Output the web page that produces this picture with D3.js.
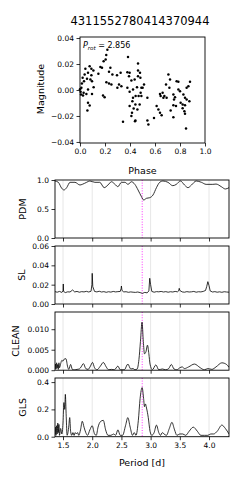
<!DOCTYPE html>
<html><head><meta charset="utf-8">
<script src="https://cdn.jsdelivr.net/npm/d3@7"></script>
<style>body{margin:0;background:#fff}svg{display:block}text{font-family:"DejaVu Sans",sans-serif;fill:#000}</style>
</head><body><svg id="c" width="249" height="480"></svg>
<script>
const title = "4311552780414370944";
const pRot = 2.856;

const phase = [0.219,0.210,0.384,0.205,0.189,0.464,0.077,0.163,0.176,0.091,0.243,0.043,0.107,0.464,0.232,0.064,0.147,0.325,0.379,0.397,
0.037,0.091,0.259,0.296,0.392,0.464,0.021,0.056,0.083,0.032,0.096,0.211,0.232,0.251,0.312,0.331,0.437,0.483,0.411,0.011,
0.109,0.299,0.064,0.379,0.456,0.491,0.424,0.005,0.029,0.051,0.096,0.024,0.184,0.197,0.397,0.445,0.469,0.491,0.424,0.485,
0.064,0.077,0.419,0.443,0.477,0.397,0.059,0.429,0.459,0.416,0.411,0.443,0.344,0.512,0.501,0.539,0.539,0.547,0.707,0.720,
0.773,0.787,0.880,0.688,0.715,0.640,0.661,0.675,0.693,0.667,0.645,0.747,0.760,0.787,0.800,0.853,0.867,0.827,0.840,0.875,
0.853,0.805,0.821,0.840,0.752,0.747,0.768,0.725,0.821,0.835,0.840,0.613,0.627,0.640,0.653,0.592,0.747,0.848,0.440,0.000,
0.008,0.015,0.480];
const mag = [0.0310,0.0270,0.0255,0.0235,0.0222,0.0204,0.0183,0.0178,0.0171,0.0163,0.0171,0.0163,0.0150,0.0150,0.0140,0.0132,0.0125,0.0132,0.0137,0.0132,
0.0119,0.0114,0.0119,0.0114,0.0106,0.0106,0.0094,0.0086,0.0081,0.0068,0.0068,0.0060,0.0050,0.0042,0.0042,0.0029,0.0081,0.0094,0.0073,0.0017,
0.0022,0.0017,0.0004,0.0017,0.0022,0.0017,0.0004,-0.0014,-0.0022,-0.0030,-0.0030,-0.0042,-0.0042,-0.0055,-0.0014,-0.0047,-0.0047,-0.0047,-0.0060,-0.0022,
-0.0099,-0.0119,-0.0086,-0.0112,-0.0112,-0.0124,-0.0158,-0.0142,-0.0150,-0.0176,-0.0201,-0.0235,-0.0245,0.0042,0.0017,-0.0060,-0.0235,-0.0265,0.0119,0.0081,
0.0068,0.0063,0.0063,0.0042,0.0017,-0.0030,-0.0022,-0.0047,-0.0060,-0.0060,-0.0047,-0.0034,-0.0055,0.0004,-0.0009,0.0017,0.0029,-0.0034,-0.0060,-0.0086,
-0.0073,-0.0099,-0.0112,-0.0117,-0.0073,-0.0117,-0.0124,-0.0158,-0.0140,-0.0163,-0.0183,-0.0124,-0.0150,-0.0176,-0.0194,-0.0215,-0.0209,-0.0296,-0.0240,0.0005,
-0.0035,0.0050,0.0132];

const phaseTicks = [0,0.2,0.4,0.6,0.8,1.0];
const magTicks = [-0.04,-0.02,0,0.02,0.04];
const periodTicks = [1.5,2.0,2.5,3.0,3.5,4.0];

const pdmPeriod = [1.363,1.42,1.478,1.517,1.563,1.62,1.705,1.79,1.83,1.904,1.96,2.046,2.13,2.205,2.27,2.33,2.39,2.44,2.50,2.56,2.614,2.67,2.73,2.785,2.843,2.882,2.928,2.985,3.04,3.10,3.155,3.21,3.297,3.38,3.44,3.51,3.58,3.64,3.70,3.78,3.87,3.95,4.065,4.12,4.21,4.28,4.342];
const pdmPower = [0.983,0.96,0.857,0.828,0.868,0.96,0.96,0.914,0.925,0.96,0.983,0.96,0.96,0.868,0.914,0.97,0.925,0.885,0.96,0.96,0.925,0.97,0.925,0.828,0.713,0.655,0.684,0.695,0.74,0.868,0.96,0.983,0.96,0.902,0.925,0.983,0.914,0.868,0.914,0.983,0.96,0.925,0.925,0.93,0.885,0.845,0.868];

const slPeriod = [1.363,1.40,1.44,1.48,1.50,1.505,1.51,1.54,1.58,1.62,1.665,1.70,1.74,1.78,1.82,1.86,1.90,1.94,1.98,1.995,2.00,2.01,2.04,2.08,2.12,2.16,2.20,2.24,2.28,2.32,2.36,2.40,2.44,2.48,2.495,2.50,2.51,2.54,2.58,2.62,2.66,2.70,2.74,2.78,2.82,2.86,2.90,2.94,2.97,2.985,3.00,3.02,3.06,3.10,3.14,3.18,3.22,3.26,3.30,3.34,3.38,3.42,3.46,3.48,3.49,3.50,3.54,3.58,3.62,3.66,3.70,3.74,3.78,3.82,3.86,3.90,3.94,3.96,3.98,4.00,4.02,4.06,4.10,4.14,4.18,4.22,4.26,4.30,4.342];
const slPower = [0.0128,0.0122,0.0130,0.0120,0.0135,0.0207,0.0130,0.0118,0.0126,0.0124,0.0145,0.0125,0.0130,0.0122,0.0128,0.0125,0.0131,0.0124,0.0132,0.0200,0.0317,0.0180,0.0130,0.0125,0.0132,0.0124,0.0128,0.0121,0.0127,0.0123,0.0130,0.0125,0.0128,0.0130,0.0160,0.0186,0.0140,0.0125,0.0127,0.0121,0.0125,0.0122,0.0120,0.0124,0.0118,0.0110,0.0120,0.0115,0.0135,0.0266,0.0200,0.0130,0.0122,0.0128,0.0126,0.0130,0.0124,0.0128,0.0122,0.0127,0.0124,0.0130,0.0126,0.0135,0.0162,0.0140,0.0125,0.0122,0.0128,0.0124,0.0126,0.0130,0.0122,0.0127,0.0125,0.0130,0.0140,0.0180,0.0231,0.0190,0.0135,0.0124,0.0128,0.0122,0.0126,0.0121,0.0127,0.0124,0.0122];

const cleanPeriod = [1.363,1.37,1.38,1.39,1.40,1.41,1.42,1.43,1.44,1.46,1.48,1.50,1.52,1.55,1.58,1.60,1.63,1.66,1.70,1.74,1.78,1.81,1.85,1.89,1.93,1.97,2.005,2.04,2.08,2.14,2.19,2.24,2.28,2.33,2.38,2.44,2.48,2.55,2.61,2.66,2.70,2.73,2.77,2.80,2.826,2.853,2.875,2.895,2.92,2.946,2.97,2.99,3.03,3.09,3.14,3.20,3.26,3.31,3.355,3.40,3.45,3.50,3.54,3.58,3.65,3.75,3.85,3.92,3.98,4.05,4.12,4.22,4.30,4.342];
const cleanPower = [0.0002,0.0015,0.0003,0.0018,0.0005,0.0014,0.0002,0.0018,0.0006,0.0016,0.0024,0.0022,0.0027,0.0028,0.0008,0.0002,0.0014,0.0002,0.0001,0.0002,0.0003,0.0008,0.0016,0.0004,0.0002,0.0010,0.0019,0.0006,0.0001,0.0010,0.0019,0.0008,0.0001,0.0002,0.0001,0.0010,0.0001,0.0001,0.0015,0.0003,0.0004,0.0001,0.0003,0.0026,0.0070,0.0117,0.0070,0.0040,0.0045,0.0061,0.0040,0.0015,0.0001,0.0013,0.0001,0.0003,0.0001,0.0004,0.0014,0.0003,0.0001,0.0006,0.0008,0.0004,0.0008,0.0015,0.0006,0.0001,0.0004,0.0002,0.0008,0.0018,0.0014,0.0007];

const glsPeriod = [1.363,1.37,1.38,1.39,1.40,1.41,1.42,1.43,1.44,1.46,1.48,1.50,1.515,1.53,1.54,1.555,1.57,1.585,1.60,1.615,1.63,1.65,1.67,1.69,1.71,1.73,1.75,1.77,1.80,1.83,1.86,1.89,1.92,1.96,2.00,2.04,2.07,2.10,2.14,2.19,2.23,2.27,2.32,2.37,2.40,2.44,2.48,2.52,2.57,2.61,2.65,2.69,2.72,2.75,2.79,2.82,2.855,2.88,2.895,2.91,2.93,2.96,2.99,3.02,3.06,3.10,3.14,3.17,3.20,3.23,3.27,3.32,3.365,3.41,3.45,3.50,3.55,3.60,3.66,3.73,3.80,3.86,3.92,3.98,4.03,4.08,4.14,4.22,4.28,4.342];
const glsPower = [0.02,0.07,0.01,0.08,0.02,0.10,0.03,0.09,0.01,0.06,0.02,0.10,0.25,0.20,0.31,0.15,0.01,0.03,0.08,0.14,0.04,0.01,0.03,0.01,0.03,0.02,0.03,0.01,0.05,0.113,0.07,0.03,0.01,0.05,0.08,0.02,0.01,0.07,0.11,0.12,0.05,0.01,0.01,0.02,0.01,0.05,0.01,0.01,0.08,0.14,0.07,0.01,0.03,0.01,0.12,0.28,0.36,0.28,0.22,0.24,0.21,0.14,0.04,0.01,0.03,0.085,0.03,0.01,0.03,0.02,0.01,0.06,0.105,0.05,0.01,0.02,0.02,0.01,0.04,0.07,0.04,0.01,0.01,0.01,0.02,0.02,0.04,0.085,0.06,0.02];

const svg = d3.select("#c");
const FS = 7.5;

svg.append("text").attr("x",140).attr("y",25).attr("text-anchor","middle").attr("font-size",11.5).text(title);

// ---------- phase-folded scatter ----------
const sx = d3.scaleLinear().domain([0,1]).range([80,205]);
const sy = d3.scaleLinear().domain([-0.0408,0.0408]).range([143,37]);
const gS = svg.append("g");
gS.append("g").attr("transform","translate(0,143)")
  .call(d3.axisBottom(sx).tickValues(phaseTicks).tickFormat(d3.format(".1f")).tickSize(3.5).tickPadding(2.5).tickSizeOuter(0));
gS.append("g").attr("transform","translate(80,0)")
  .call(d3.axisLeft(sy).tickValues(magTicks).tickFormat(d3.format(".2f")).tickSize(3.5).tickPadding(2.5).tickSizeOuter(0));
gS.selectAll(".domain").remove();
gS.selectAll(".tick text").attr("font-size",FS).attr("font-family","DejaVu Sans");
gS.selectAll(".tick line").attr("stroke","#000").attr("stroke-width",0.8);
gS.append("g").selectAll("circle").data(phase.map((p,i)=>[p,mag[i]])).join("circle")
  .attr("cx",d=>sx(d[0])).attr("cy",d=>sy(d[1])).attr("r",1.25).attr("fill","#000");
gS.append("rect").attr("x",80).attr("y",37).attr("width",125).attr("height",106)
  .attr("fill","none").attr("stroke","#000").attr("stroke-width",0.9);
const pt = gS.append("text").attr("x",83).attr("y",48).attr("font-size",8);
pt.append("tspan").attr("font-style","italic").text("P");
pt.append("tspan").attr("font-style","italic").attr("font-size",5.5).attr("dy",1.8).text("rot");
pt.append("tspan").attr("dy",-1.8).text(" = " + pRot.toFixed(3));
svg.append("text").attr("transform","translate(43.5,89) rotate(-90)").attr("text-anchor","middle").attr("font-size",9.5).text("Magnitude");
svg.append("text").attr("x",142.5).attr("y",174).attr("text-anchor","middle").attr("font-size",9.5).text("Phase");

// ---------- periodogram panels ----------
const px = d3.scaleLinear().domain([1.363,4.342]).range([55,229]);
const panels = [
  {name:"PDM", per:pdmPeriod, pow:pdmPower, top:180, bot:238, dom:[0,1], ticks:[0,0.5,1], fmt:".1f", lx:25.5, curve:d3.curveMonotoneX},
  {name:"SL", per:slPeriod, pow:slPower, top:246, bot:304, dom:[0,0.06], ticks:[0,0.02,0.04,0.06], fmt:".2f", lx:24.5, curve:d3.curveLinear},
  {name:"CLEAN", per:cleanPeriod, pow:cleanPower, top:312, bot:370.2, dom:[0,0.0142], ticks:[0,0.005,0.01], fmt:".3f", lx:18.5, curve:d3.curveMonotoneX},
  {name:"GLS", per:glsPeriod, pow:glsPower, top:378, bot:436.7, dom:[0,0.43], ticks:[0,0.2,0.4], fmt:".1f", lx:25.5, curve:d3.curveMonotoneX}
];
panels.forEach((P,k)=>{
  const y = d3.scaleLinear().domain(P.dom).range([P.bot,P.top]);
  const g = svg.append("g");
  g.append("defs").append("clipPath").attr("id","cp"+k).append("rect")
    .attr("x",55).attr("y",P.top).attr("width",174).attr("height",P.bot-P.top);
  g.selectAll("line.grid").data(periodTicks).join("line").attr("class","grid")
    .attr("x1",d=>px(d)).attr("x2",d=>px(d)).attr("y1",P.top).attr("y2",P.bot)
    .attr("stroke","#e3e3e3").attr("stroke-width",0.9);
  g.append("line").attr("x1",px(pRot)).attr("x2",px(pRot)).attr("y1",P.top).attr("y2",P.bot)
    .attr("stroke","#ff33ff").attr("stroke-width",1).attr("stroke-dasharray","1,1.6");
  const line = d3.line().x((d,i)=>px(P.per[i])).y((d,i)=>y(P.pow[i])).curve(P.curve);
  g.append("path").attr("d",line(P.pow)).attr("fill","none").attr("stroke","#000")
    .attr("stroke-width",0.8).attr("clip-path","url(#cp"+k+")");
  const ax = g.append("g").attr("transform","translate(0,"+P.bot+")")
    .call(d3.axisBottom(px).tickValues(periodTicks).tickFormat(k===3?d3.format(".1f"):()=>"").tickSize(3.5).tickPadding(2.5).tickSizeOuter(0));
  const ay = g.append("g").attr("transform","translate(55,0)")
    .call(d3.axisLeft(y).tickValues(P.ticks).tickFormat(d3.format(P.fmt)).tickSize(3.5).tickPadding(2.5).tickSizeOuter(0));
  g.selectAll(".domain").remove();
  g.selectAll(".tick text").attr("font-size",FS).attr("font-family","DejaVu Sans");
  g.selectAll(".tick line").attr("stroke","#000").attr("stroke-width",0.8);
  g.append("rect").attr("x",55).attr("y",P.top).attr("width",174).attr("height",P.bot-P.top)
    .attr("fill","none").attr("stroke","#000").attr("stroke-width",0.9);
  svg.append("text").attr("transform","translate("+P.lx+","+((P.top+P.bot)/2)+") rotate(-90)")
    .attr("text-anchor","middle").attr("font-size",9.5).text(P.name);
});
svg.append("text").attr("x",142).attr("y",466).attr("text-anchor","middle").attr("font-size",9.5).text("Period [d]");
</script></body></html>
